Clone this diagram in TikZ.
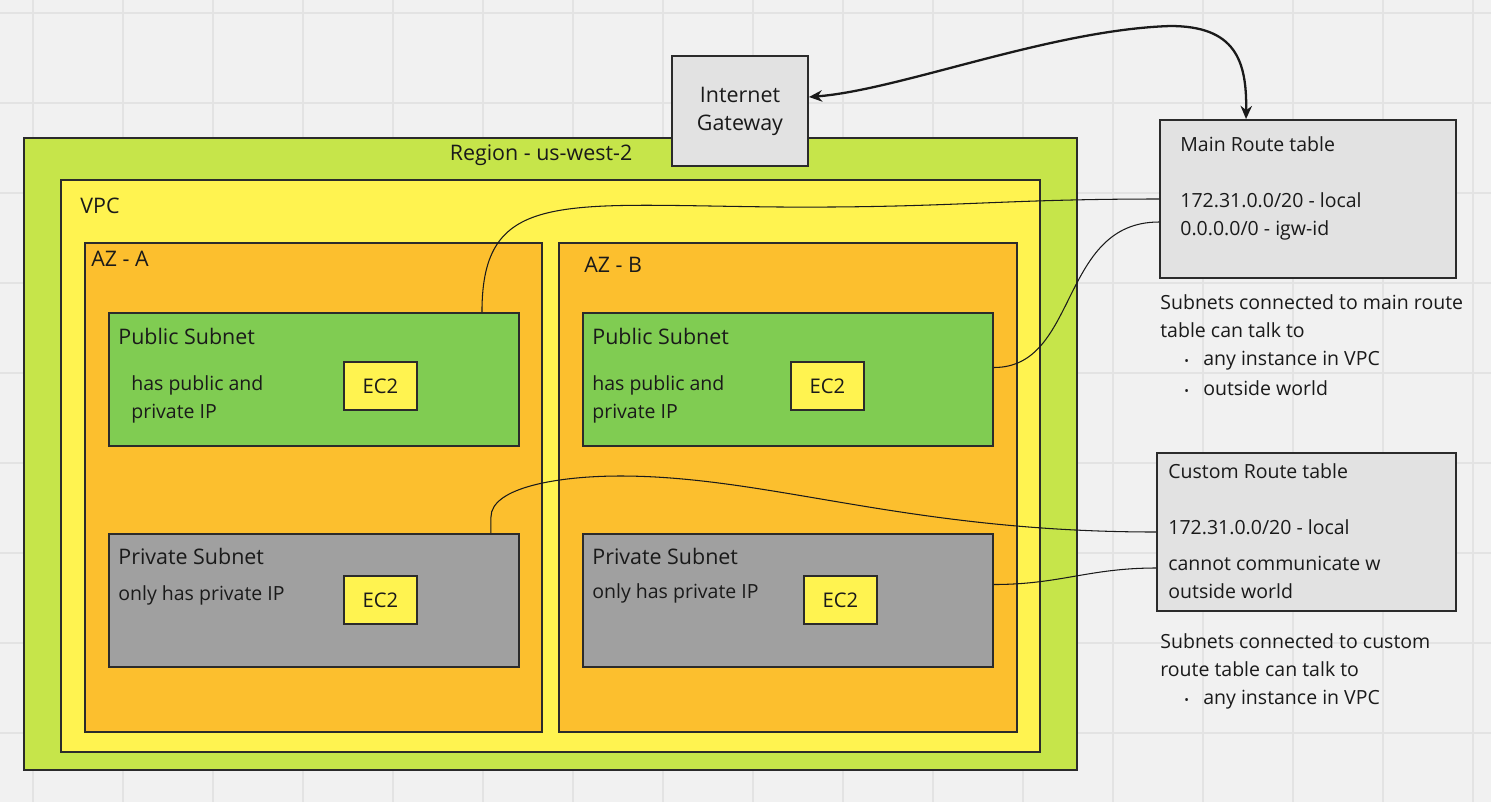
\documentclass[tikz,border=0pt]{standalone}
\usepackage{fontspec}
\setmainfont{Open Sans}
\usetikzlibrary{fit,calc,positioning,arrows.meta}
\definecolor{bg}{HTML}{F1F1F1}
\definecolor{gridline}{HTML}{E3E3E3}
\definecolor{edge}{HTML}{2B2B2B}
\definecolor{ink}{HTML}{1A1A1A}
\definecolor{regiongreen}{HTML}{C6E54A}
\definecolor{vpcyellow}{HTML}{FFF350}
\definecolor{azorange}{HTML}{FCBF2E}
\definecolor{pubgreen}{HTML}{80CC52}
\definecolor{privgray}{HTML}{A0A0A0}
\definecolor{tablegray}{HTML}{E2E2E2}
\begin{document}
\begin{tikzpicture}[x=0.02cm,y=-0.02cm,>={Stealth[length=7.5pt,width=6.5pt]},font=\fontsize{11.1}{15.9}\selectfont,
		box/.style={draw=edge,line width=1.1pt,inner sep=0pt},
		ec2/.style={box,fill=vpcyellow,minimum width=1.46cm,minimum height=0.96cm,text=ink,font=\fontsize{11.5}{15.9}\selectfont},
		lbl/.style={anchor=base west,inner sep=0pt,text=ink},
		title/.style={lbl,font=\fontsize{12.2}{15.9}\selectfont},
		link/.style={draw=ink,line width=0.6pt}]
	\fill[bg] (0,0) rectangle (1491,802);
	\useasboundingbox (0,0) rectangle (1491,802);
	\foreach \x in {33,123,...,1491} \draw[gridline,line width=0.6pt] (\x,0)--(\x,802);
	\foreach \y in {13,103,...,802} \draw[gridline,line width=0.6pt] (0,\y)--(1491,\y);
	% nested boxes
	\node[box,fill=regiongreen,fit={(24,138) (1077,770)}] (region) {};
	\node[box,fill=vpcyellow,fit={(61,180) (1040,752)}] (vpc) {};
	\node[box,fill=azorange,fit={(85,243) (542,732)}] (aza) {};
	\node[box,fill=azorange,fit={(559,243) (1017,732)}] (azb) {};
	\node[box,fill=pubgreen,fit={(109,313) (519,446)}] (puba) {};
	\node[box,fill=pubgreen,fit={(583,313) (993,446)}] (pubb) {};
	\node[box,fill=privgray,fit={(109,534) (519,667)}] (priva) {};
	\node[box,fill=privgray,fit={(583,534) (993,667)}] (privb) {};
	\node[ec2] (ec2pa) at (380.5,386) {EC2};
	\node[ec2] (ec2pb) at (827.5,386) {EC2};
	\node[ec2] (ec2va) at (380.5,600) {EC2};
	\node[ec2] (ec2vb) at (840.5,600) {EC2};
	\node[box,fill=tablegray,minimum width=2.72cm,minimum height=2.2cm,align=center,text=ink,font=\fontsize{12.2}{15.9}\selectfont] (igw) at (740,111) {Internet\\Gateway};
	\node[box,fill=tablegray,fit={(1160,120) (1456,278)}] (main) {};
	\node[box,fill=tablegray,fit={(1157,453) (1456,611)}] (custom) {};
	% labels
	\node[title,anchor=base] (lregion) at (541,160) {Region - us-west-2};
	\node[title] (lvpc) at (80,213) {VPC};
	\node[title] (laza) at (91,266) {AZ - A};
	\node[title] (lazb) at (584,272) {AZ - B};
	\node[title] (lpuba) at (118,344) {Public Subnet};
	\node[title] (lpubb) at (592,344) {Public Subnet};
	\node[lbl] (tpuba1) at (131,390) {has public and};
	\node[lbl] (tpuba2) at (131,418) {private IP};
	\node[lbl] (tpubb1) at (592,390) {has public and};
	\node[lbl] (tpubb2) at (592,418) {private IP};
	\node[title] (lpriva) at (118,564) {Private Subnet};
	\node[title] (lprivb) at (592,564) {Private Subnet};
	\node[lbl] (tpriva) at (118,600) {only has private IP};
	\node[lbl] (tprivb) at (592,598) {only has private IP};
	\node[lbl] (lmain) at (1180,151) {Main Route table};
	\node[lbl] (rmain1) at (1180,207) {172.31.0.0/20 - local};
	\node[lbl] (rmain2) at (1180,235) {0.0.0.0/0 - igw-id};
	\node[lbl] (nmain1) at (1160,309) {Subnets connected to main route};
	\node[lbl] (nmain2) at (1160,337) {table can talk to};
	\node[lbl] (bmain1) at (1184,365) {\makebox[0.38cm][l]{\scriptsize•}any instance in VPC};
	\node[lbl] (bmain2) at (1184,395) {\makebox[0.38cm][l]{\scriptsize•}outside world};
	\node[lbl] (lcustom) at (1168,478) {Custom Route table};
	\node[lbl] (rcustom1) at (1168,534) {172.31.0.0/20 - local};
	\node[lbl] (rcustom2) at (1168,570) {cannot communicate w};
	\node[lbl] (rcustom3) at (1168,598) {outside world};
	\node[lbl] (ncustom1) at (1160,648) {Subnets connected to custom};
	\node[lbl] (ncustom2) at (1160,676) {route table can talk to};
	\node[lbl] (bcustom1) at (1184,704) {\makebox[0.38cm][l]{\scriptsize•}any instance in VPC};
	% connectors
	\draw[<->,draw=ink,line width=1.3pt] ($(igw.east)+(0,-14)$) .. controls (900,90) and (1050,30) .. (1170,26) .. controls (1235,26) and (1247,60) .. ($(main.north west)+(87,0)$);
	\draw[link] ($(puba.north east)+(-38,0)$) .. controls +(0,-123) and +(-220,-2) .. (780,207) .. controls +(170,1) and +(-160,0) .. (main.west);
	\draw[link] ($(pubb.east)+(0,-12)$) .. controls +(85,0) and +(-100,0) .. ($(main.west)+(0,23)$);
	\draw[link] ($(priva.north east)+(-29,0)$) -- ++(0,-16) .. controls +(0,-30) and +(-60,0) .. (620,476) .. controls +(150,0) and +(-250,0) .. (custom.west);
	\draw[link] ($(privb.east)+(0,-16)$) .. controls +(66,0) and +(-67,0) .. ($(custom.west)+(0,36)$);
\end{tikzpicture}
\end{document}
